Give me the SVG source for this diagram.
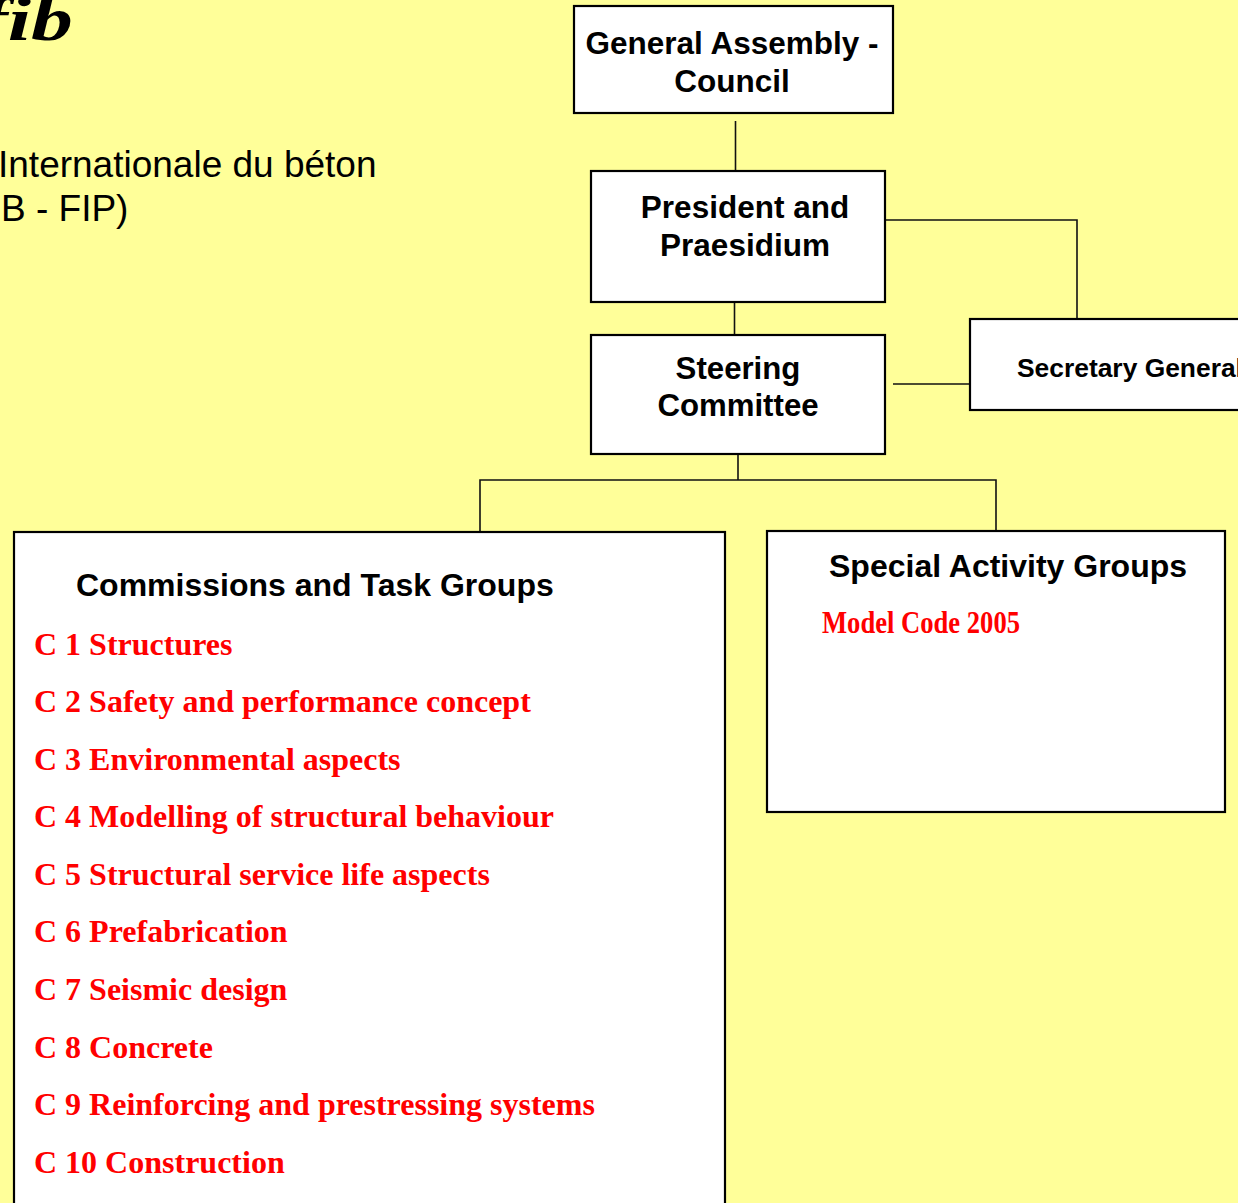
<svg xmlns="http://www.w3.org/2000/svg" width="1238" height="1203" viewBox="0 0 1238 1203">
<style>
.box{fill:#fff;stroke:#000;stroke-width:2.2}
.conn line,.conn polyline{stroke:#111;stroke-width:1.6;fill:none}
.h{font-family:"Liberation Sans",Arial,sans-serif;font-weight:bold;fill:#000}
.c{font-family:"Liberation Serif","Times New Roman",serif;font-weight:bold;fill:#ff0000;font-size:32px}
.t{font-family:"Liberation Sans",Arial,sans-serif;fill:#000;font-size:37px}
</style>
<rect width="1238" height="1203" fill="#ffff99"/>
<g id="title">
<text transform="translate(-20,40) scale(1.35,1)" x="0" y="0" font-family="Liberation Serif,'Times New Roman',serif" font-weight="bold" font-style="italic" font-size="62" fill="#000">fib</text>
<text class="t" x="-2" y="177">Internationale du béton</text>
<text class="t" x="1" y="221">B - FIP)</text>
</g>
<g class="conn" id="connectors">
<line x1="735.5" y1="121" x2="735.5" y2="171"/>
<line x1="734.5" y1="294" x2="734.5" y2="343"/>
<polyline points="885,220 1077,220 1077,319"/>
<line x1="893" y1="384" x2="978" y2="384"/>
<line x1="738" y1="455" x2="738" y2="480"/>
<polyline points="480,532 480,480 996,480 996,532"/>
</g>
<g id="general-assembly">
<rect class="box" x="574" y="6" width="319" height="107"/>
<text class="h" font-size="31.5" text-anchor="middle" x="732" y="54">General Assembly -</text>
<text class="h" font-size="31.5" text-anchor="middle" x="732" y="92">Council</text>
</g>
<g id="president">
<rect class="box" x="591" y="171" width="294" height="131"/>
<text class="h" font-size="31.5" text-anchor="middle" x="745" y="218">President and</text>
<text class="h" font-size="31.5" text-anchor="middle" x="745" y="256">Praesidium</text>
</g>
<g id="steering">
<rect class="box" x="591" y="335" width="294" height="119"/>
<text class="h" font-size="31.2" text-anchor="middle" x="738" y="379">Steering</text>
<text class="h" font-size="31.2" text-anchor="middle" x="738" y="416">Committee</text>
</g>
<g id="secretary">
<rect class="box" x="970" y="319" width="290" height="91"/>
<text class="h" font-size="26.4" x="1017" y="377">Secretary General</text>
</g>
<g id="commissions">
<rect class="box" x="14" y="532" width="711" height="700"/>
<text class="h" font-size="32" x="76" y="596">Commissions and Task Groups</text>
<text class="c" x="34" y="655">C 1 Structures</text>
<text class="c" x="34" y="712">C 2 Safety and performance concept</text>
<text class="c" x="34" y="770">C 3 Environmental aspects</text>
<text class="c" x="34" y="827">C 4 Modelling of structural behaviour</text>
<text class="c" x="34" y="885">C 5 Structural service life aspects</text>
<text class="c" x="34" y="942">C 6 Prefabrication</text>
<text class="c" x="34" y="1000">C 7 Seismic design</text>
<text class="c" x="34" y="1058">C 8 Concrete</text>
<text class="c" x="34" y="1115">C 9 Reinforcing and prestressing systems</text>
<text class="c" x="34" y="1173">C 10 Construction</text>
</g>
<g id="special-activity">
<rect class="box" x="767" y="531" width="458" height="281"/>
<text class="h" font-size="32" x="829" y="577">Special Activity Groups</text>
<text class="c" font-size="25" x="822" y="633" textLength="198" lengthAdjust="spacingAndGlyphs">Model Code 2005</text>
</g>
</svg>
